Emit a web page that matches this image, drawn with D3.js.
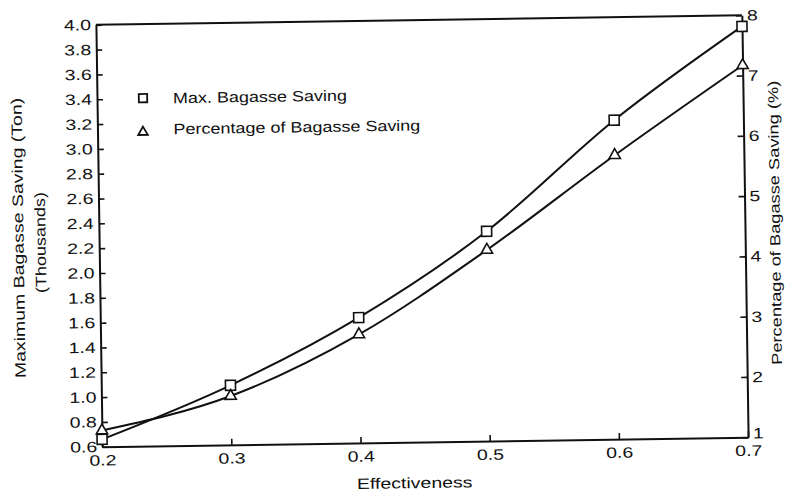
<!DOCTYPE html>
<html>
<head>
<meta charset="utf-8">
<script src="https://cdn.jsdelivr.net/npm/d3@7"></script>
<style>
  body { margin: 0; background: #fff; }
  text { font-family: "Liberation Sans", Arial, sans-serif; fill: #111; }
</style>
</head>
<body>
<svg id="chart" width="787" height="493"></svg>
<script>
var effectiveness = [0.2, 0.3, 0.4, 0.5, 0.6, 0.7],
  maxSaving = [0.66, 1.08, 1.61, 2.29, 3.17, 3.91],
  pctSaving = [1.27, 1.81, 2.80, 4.17, 5.71, 7.17];

var xTicks = [0.2, 0.3, 0.4, 0.5, 0.6, 0.7],
  leftTicks = [0.6, 0.8, 1.0, 1.2, 1.4, 1.6, 1.8, 2.0, 2.2, 2.4, 2.6, 2.8, 3.0, 3.2, 3.4, 3.6, 3.8, 4.0],
  rightTicks = [1, 2, 3, 4, 5, 6, 7, 8];

var svg = d3.select("#chart"),
  // the scanned figure is tilted a little, so the whole plot is too
  g = svg.append("g").attr("transform", "rotate(-0.85,423,231)");

var x = d3.scaleLinear().domain([0.2, 0.7]).range([99, 745]);
var yL = d3.scaleLinear().domain([0.6, 4.0]).range([442, 20]);
var yR = d3.scaleLinear().domain([1, 8]).range([442, 20]);

// stretch text horizontally around its anchor (the original font is wide)
function stretch(sel, k) {
  sel.each(function () {
    var t = d3.select(this), tx = +t.attr("x") || 0, ty = +t.attr("y") || 0;
    t.attr("x", 0).attr("y", 0)
      .attr("transform", "translate(" + tx + "," + ty + ") scale(" + k + ",1)");
  });
}

function styleAxis(a) {
  a.attr("font-size", 15).attr("font-family", "'Liberation Sans', Arial, sans-serif");
  a.select(".domain").attr("stroke", "#111").attr("stroke-width", 2);
  a.selectAll(".tick line").attr("stroke", "#111").attr("stroke-width", 1.6);
  a.selectAll(".tick text").attr("fill", "#111");
  stretch(a.selectAll(".tick text"), 1.3);
}

var axL = g.append("g")
  .attr("transform", "translate(" + x(0.2) + ",0)")
  .call(d3.axisLeft(yL).tickValues(leftTicks).tickFormat(d3.format(".1f"))
    .tickSizeInner(-6).tickSizeOuter(0).tickPadding(5));
styleAxis(axL);

var axR = g.append("g")
  .attr("transform", "translate(" + x(0.7) + ",0)")
  .call(d3.axisRight(yR).tickValues(rightTicks).tickFormat(d3.format("d"))
    .tickSizeInner(-6).tickSizeOuter(0).tickPadding(5));
styleAxis(axR);
// the "1" sits a bit above the corner in the original
axR.selectAll(".tick text").filter(function (d) { return d === 1; }).attr("dy", "0.05em");

var axB = g.append("g")
  .attr("transform", "translate(0," + yL(0.6) + ")")
  .call(d3.axisBottom(x).tickValues(xTicks).tickFormat(d3.format(".1f"))
    .tickSizeInner(-6).tickSizeOuter(0).tickPadding(8));
styleAxis(axB);

// top frame line
g.append("line")
  .attr("x1", x(0.2)).attr("x2", x(0.7))
  .attr("y1", yL(4.0)).attr("y2", yL(4.0))
  .attr("stroke", "#111").attr("stroke-width", 2);

var lineL = d3.line()
  .x(function (d, i) { return x(effectiveness[i]); })
  .y(function (d) { return yL(d); })
  .curve(d3.curveMonotoneX);

var lineR = d3.line()
  .x(function (d, i) { return x(effectiveness[i]); })
  .y(function (d) { return yR(d); })
  .curve(d3.curveMonotoneX);

g.append("path").datum(maxSaving)
  .attr("d", lineL).attr("fill", "none").attr("stroke", "#111").attr("stroke-width", 2);

g.append("path").datum(pctSaving)
  .attr("d", lineR).attr("fill", "none").attr("stroke", "#111").attr("stroke-width", 2);

var sq = d3.symbol(d3.symbolSquare, 100),
  tri = d3.symbol(d3.symbolTriangle, 55);

g.selectAll(".sq").data(maxSaving).enter().append("path")
  .attr("class", "sq")
  .attr("d", sq)
  .attr("transform", function (d, i) { return "translate(" + x(effectiveness[i]) + "," + yL(d) + ")"; })
  .attr("fill", "#fff").attr("stroke", "#111").attr("stroke-width", 1.6);

g.selectAll(".tri").data(pctSaving).enter().append("path")
  .attr("class", "tri")
  .attr("d", tri)
  .attr("transform", function (d, i) { return "translate(" + x(effectiveness[i]) + "," + yR(d) + ")"; })
  .attr("fill", "#fff").attr("stroke", "#111").attr("stroke-width", 1.6);

// legend
var legend = g.append("g");
legend.append("path").attr("d", d3.symbol(d3.symbolSquare, 70))
  .attr("transform", "translate(145,94)")
  .attr("fill", "#fff").attr("stroke", "#111").attr("stroke-width", 1.8);
legend.append("path").attr("d", d3.symbol(d3.symbolTriangle, 40))
  .attr("transform", "translate(144.5,128)")
  .attr("fill", "#fff").attr("stroke", "#111").attr("stroke-width", 1.8);
legend.append("text").attr("x", 175).attr("y", 99.5).attr("font-size", 15)
  .text("Max. Bagasse Saving");
legend.append("text").attr("x", 175).attr("y", 130.5).attr("font-size", 15)
  .text("Percentage of Bagasse Saving");
stretch(legend.selectAll("text"), 1.2);

// axis titles
g.append("text")
  .attr("text-anchor", "middle").attr("font-size", 15)
  .attr("transform", "translate(411,488) scale(1.3,1)")
  .text("Effectiveness");

g.append("text")
  .attr("text-anchor", "middle").attr("font-size", 15)
  .attr("transform", "translate(23.5,232) rotate(-90) scale(1.3,1)")
  .text("Maximum Bagasse Saving (Ton)");

g.append("text")
  .attr("text-anchor", "middle").attr("font-size", 15)
  .attr("transform", "translate(45.5,237) rotate(-90) scale(1.2,1)")
  .text("(Thousands)");

g.append("text")
  .attr("text-anchor", "middle").attr("font-size", 14.5)
  .attr("transform", "translate(780,228) rotate(-90) scale(1.26,1)")
  .text("Percentage of Bagasse Saving (%)");
</script>
</body>
</html>
